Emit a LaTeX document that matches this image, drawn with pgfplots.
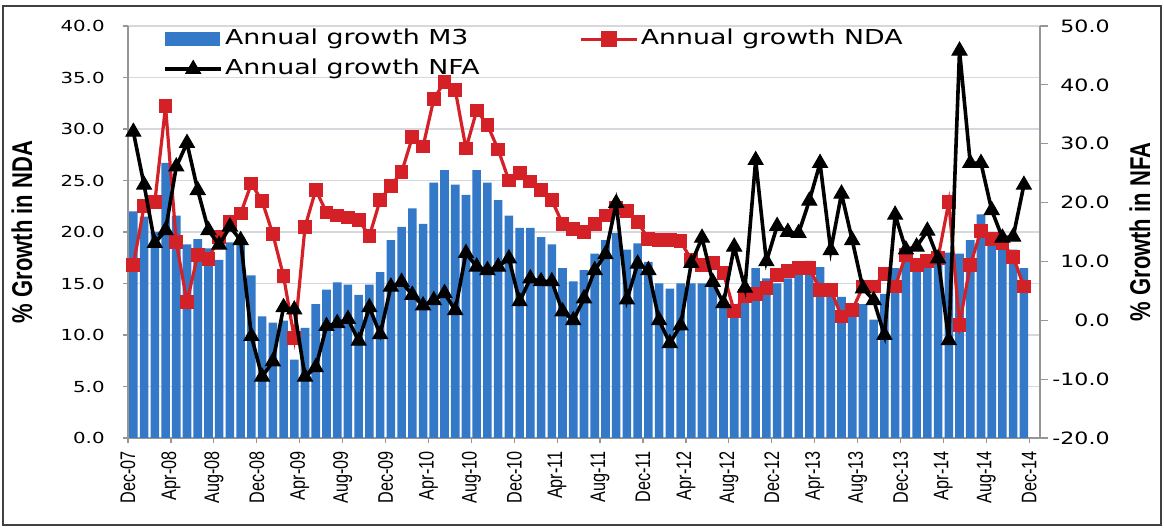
\documentclass[border=0pt]{standalone}
\usepackage{graphicx}
\usepackage{fontspec}
\setmainfont{DejaVu Sans}
\newfontfamily\arialf{Liberation Sans}
\usepackage{pgfplots}
\usepackage{pgfplotstable}
\pgfplotsset{compat=1.18}
\definecolor{barblue}{RGB}{52,120,200}
\definecolor{ndared}{RGB}{212,33,40}
\definecolor{gridgray}{RGB}{215,215,222}
\definecolor{axgray}{RGB}{150,150,150}
\newcommand{\yl}[1]{\scalebox{1.3}[1]{#1}}
\newcommand{\xl}[1]{\scalebox{1}[1.3]{#1}}
\newcommand{\lt}[1]{\scalebox{1.3}[1]{#1}}
\pgfplotsset{
  linelegend/.style={legend image code/.code={\draw[mark repeat=2,mark phase=2,##1] plot coordinates {(0pt,0pt) (14pt,0pt) (28pt,0pt)};}},
  barlegend/.style={legend image code/.code={\fill[barblue] (0pt,-3.3pt) rectangle (27pt,3.3pt);}},
}

\pgfplotstableread{
i m3 nda nfa
0 22.0 16.8 32.0
1 21.5 22.5 23.0
2 20.0 22.9 13.1
3 26.7 32.2 15.3
4 21.6 19.0 26.1
5 18.8 13.2 30.1
6 19.3 17.8 22.1
7 18.4 17.4 15.3
8 17.3 19.5 12.8
9 19.0 21.0 15.9
10 19.5 21.8 13.6
11 15.8 24.7 -2.7
12 11.8 23.0 -9.6
13 11.2 19.8 -7.0
14 11.4 15.7 2.2
15 7.6 9.7 1.8
16 10.7 20.5 -9.6
17 13.0 24.1 -8.0
18 14.4 21.9 -1.0
19 15.1 21.6 -0.5
20 14.9 21.4 0.2
21 13.9 21.2 -3.5
22 14.9 19.6 2.2
23 16.1 23.1 -2.4
24 19.2 24.5 5.7
25 20.5 25.8 6.5
26 22.3 29.2 4.3
27 20.8 28.3 2.5
28 24.8 32.9 3.4
29 26.0 34.6 4.6
30 24.6 33.8 1.7
31 23.6 28.1 11.4
32 26.0 31.8 9.1
33 24.8 30.4 8.5
34 23.1 28.0 9.1
35 21.6 25.0 10.5
36 20.4 25.7 3.2
37 20.4 24.9 7.1
38 19.5 24.1 6.6
39 18.8 23.1 6.6
40 16.5 20.8 1.5
41 15.2 20.3 0.0
42 16.3 20.0 3.7
43 17.9 20.8 8.5
44 19.2 21.6 11.2
45 19.9 22.3 19.9
46 18.3 22.0 3.5
47 18.9 21.0 9.6
48 17.1 19.3 8.5
49 15.0 19.2 0.0
50 14.5 19.2 -3.9
51 15.0 19.1 -0.9
52 15.0 17.3 9.7
53 15.0 16.8 14.0
54 14.8 17.0 6.5
55 13.1 16.0 2.9
56 12.5 12.3 12.5
57 14.0 13.8 5.5
58 16.5 14.0 27.2
59 15.5 14.6 10.0
60 15.0 15.8 16.0
61 15.5 16.2 15.0
62 16.8 16.5 14.8
63 17.2 16.5 20.3
64 16.6 14.4 26.7
65 15.0 14.4 11.9
66 13.7 11.8 21.5
67 12.7 12.4 13.6
68 13.0 14.7 5.4
69 11.5 14.7 3.4
70 14.0 15.9 -2.5
71 16.5 14.7 17.9
72 18.0 17.8 12.0
73 17.0 16.8 12.5
74 17.0 17.2 15.2
75 17.5 17.5 10.5
76 18.0 22.9 -3.4
77 17.9 11.0 45.8
78 19.2 16.8 26.7
79 21.7 20.1 26.7
80 19.9 19.3 18.7
81 19.5 18.9 14.0
82 18.3 17.6 14.2
83 16.5 14.7 23.0
}\data

\begin{document}
\begin{tikzpicture}
\path[use as bounding box] (0,0) rectangle (582pt,265pt);
\fill[white] (0,0) rectangle (582pt,265pt);
\draw[line width=1.4pt, black!75] (1.5pt,2.5pt) rectangle (580.5pt,262pt);

\begin{axis}[
  at={(64pt,46pt)}, anchor=south west,
  width=456pt, height=206pt, scale only axis,
  xmin=-0.5, xmax=84.5, ymin=0, ymax=40,
  axis x line*=bottom, axis y line*=left,
  axis line style={axgray, line width=0.6pt},
  xtick={-0.5,3.5,...,83.5},
  xticklabels={\xl{Dec-07},\xl{Apr-08},\xl{Aug-08},\xl{Dec-08},\xl{Apr-09},\xl{Aug-09},\xl{Dec-09},\xl{Apr-10},\xl{Aug-10},\xl{Dec-10},\xl{Apr-11},\xl{Aug-11},\xl{Dec-11},\xl{Apr-12},\xl{Aug-12},\xl{Dec-12},\xl{Apr-13},\xl{Aug-13},\xl{Dec-13},\xl{Apr-14},\xl{Aug-14},\xl{Dec-14}},
  xticklabel style={rotate=90, anchor=east, inner sep=0pt, font=\arialf\fontsize{8.1}{9}\selectfont},
  xticklabel shift=4pt,
  ytick={0,5,...,40},
  yticklabels={\yl{0.0},\yl{5.0},\yl{10.0},\yl{15.0},\yl{20.0},\yl{25.0},\yl{30.0},\yl{35.0},\yl{40.0}},
  yticklabel style={anchor=east, inner sep=0pt, font=\fontsize{7.6}{9}\selectfont},
  yticklabel shift=9pt,
  tick align=outside, major tick length=2.5pt,
  tick style={axgray, line width=0.6pt},
  ymajorgrids, grid style={gridgray, line width=0.6pt},
  clip=false,
]
\addplot[ybar, bar width=0.8, fill=barblue, draw=none] table[x=i,y=m3]{\data};
\addplot[ndared, line width=1.6pt, mark=square*, mark size=3.2pt, mark options={fill=ndared, draw=ndared, line width=0.5pt}] table[x=i,y=nda]{\data};
\end{axis}

\begin{axis}[
  at={(64pt,46pt)}, anchor=south west,
  width=456pt, height=206pt, scale only axis,
  xmin=-0.5, xmax=84.5, ymin=-20, ymax=50,
  axis x line=none, axis y line*=right,
  axis line style={axgray, line width=0.6pt},
  ytick={-20,-10,...,50},
  yticklabels={\yl{-20.0},\yl{-10.0},\yl{0.0},\yl{10.0},\yl{20.0},\yl{30.0},\yl{40.0},\yl{50.0}},
  yticklabel style={anchor=east, inner sep=0pt, font=\fontsize{8.5}{9}\selectfont},
  yticklabel shift=31pt,
  tick align=outside, major tick length=4pt,
  tick style={axgray, line width=0.6pt},
  legend columns=2,
  legend style={draw=none, fill=none, at={(rel axis cs:0.0384,0.997)}, anchor=north west,
    inner sep=0pt, row sep=3.5pt, font=\fontsize{10.3}{12}\selectfont,
    nodes={inner sep=1pt, text height=7.5pt, text depth=2pt},
    /tikz/column 2/.style={column sep=49pt}},
  legend cell align=left,
  clip=false,
]
\addlegendimage{barlegend}
\addlegendentry{\lt{Annual growth M3}}
\addlegendimage{ndared, line width=1.6pt, mark=square*, mark size=3.2pt, mark options={fill=ndared}, linelegend}
\addlegendentry{\lt{Annual growth NDA}}
\addplot[black, line width=1.8pt, mark=triangle*, mark size=4.3pt, mark options={fill=black, line width=0.5pt}, linelegend]
  table[x=i,y=nfa]{\data};
\addlegendentry{\lt{Annual growth NFA}}
\end{axis}

\node[rotate=90, font=\arialf\bfseries\fontsize{11}{12}\selectfont] at (11pt,149pt) {\scalebox{1}[1.3]{\% Growth in NDA}};
\node[rotate=90, font=\arialf\bfseries\fontsize{11}{12}\selectfont] at (570pt,149pt) {\scalebox{1}[1.3]{\% Growth in NFA}};
\end{tikzpicture}
\end{document}
